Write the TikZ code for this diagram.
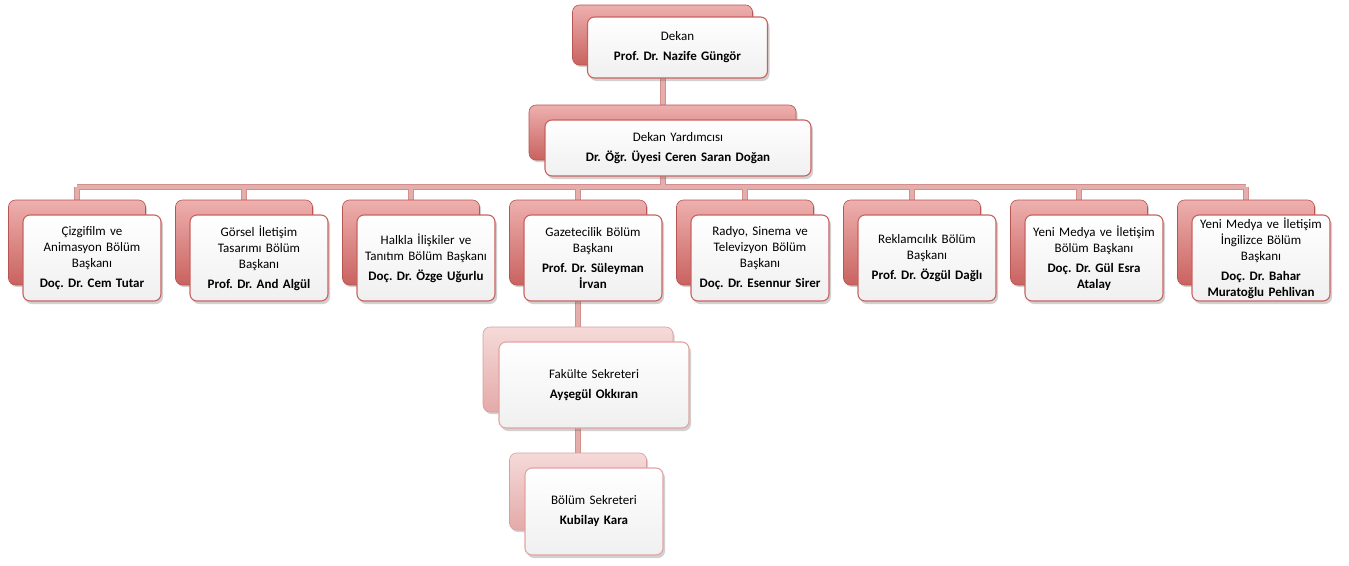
\documentclass[tikz,border=0pt]{standalone}
\usepackage{fontspec}
\setmainfont{Carlito}
\frenchspacing
\usetikzlibrary{shadows,backgrounds}
\definecolor{bkTop}{HTML}{EDB0AE}
\definecolor{bkBot}{HTML}{C9625F}
\definecolor{bkDraw}{HTML}{B85451}
\definecolor{lbTop}{HTML}{F5DAD9}
\definecolor{lbBot}{HTML}{E3AAA8}
\definecolor{lbDraw}{HTML}{D9A09E}
\definecolor{frDraw}{HTML}{C9625F}
\definecolor{lfDraw}{HTML}{E2A4A2}
\definecolor{conOut}{HTML}{D48F8D}
\definecolor{conIn}{HTML}{E4AEAC}
\begin{document}
\begin{tikzpicture}[x=1pt,y=-1pt,
  backbox/.style={rectangle, rounded corners=7pt, top color=bkTop, bottom color=bkBot, draw=bkDraw, line width=0.6pt, inner sep=0pt,
    drop shadow={shadow xshift=1.5pt, shadow yshift=-2pt, opacity=.3, fill=black!60}},
  lightback/.style={backbox, top color=lbTop, bottom color=lbBot, draw=lbDraw},
  frontbox/.style={rectangle, rounded corners=7pt, top color=white, bottom color=black!6, draw=frDraw, line width=1.1pt, inner sep=0pt, align=center,
    font=\fontsize{13}{16}\selectfont\frenchspacing,
    drop shadow={shadow xshift=2pt, shadow yshift=-3pt, opacity=.3, fill=black!60}},
  lightfront/.style={frontbox, draw=lfDraw},
  conn/.style={draw=conOut, line width=1pt, double=conIn, double distance=4pt}
]
\useasboundingbox (0,0) rectangle (1349,565);

% Dekan
\node[backbox, minimum width=180, minimum height=60] (dekB) at (662.5,35) {};
\node[frontbox, minimum width=180, minimum height=61, text width=174] (dekF) at (677.5,47.5)
  {Dekan\\[4pt]\textbf{Prof. Dr. Nazife Güngör}};

% Dekan Yardimcisi
\node[backbox, minimum width=267, minimum height=55] (yrdB) at (662.5,132.5) {};
\node[frontbox, minimum width=266, minimum height=56, text width=260] (yrdF) at (678,148)
  {Dekan Yardımcısı\\[4pt]\textbf{Dr. Öğr. Üyesi Ceren Saran Doğan}};

% Departments
\foreach \i/\txt in {
  0/{Çizgifilm ve\\Animasyon Bölüm\\Başkanı\\[4pt]\textbf{Doç. Dr. Cem Tutar}},
  1/{Görsel İletişim\\Tasarımı Bölüm\\Başkanı\\[4pt]\textbf{Prof. Dr. And Algül}},
  2/{Halkla İlişkiler ve\\Tanıtım Bölüm Başkanı\\[4pt]\textbf{Doç. Dr. Özge Uğurlu}},
  3/{Gazetecilik Bölüm\\Başkanı\\[4pt]\textbf{Prof. Dr. Süleyman}\\\textbf{İrvan}},
  4/{Radyo, Sinema ve\\Televizyon Bölüm\\Başkanı\\[4pt]\textbf{Doç. Dr. Esennur Sirer}},
  5/{Reklamcılık Bölüm\\Başkanı\\[4pt]\textbf{Prof. Dr. Özgül Dağlı}},
  6/{Yeni Medya ve İletişim\\Bölüm Başkanı\\[4pt]\textbf{Doç. Dr. Gül Esra}\\\textbf{Atalay}},
  7/{Yeni Medya ve İletişim\\İngilizce Bölüm\\Başkanı\\[4pt]\textbf{Doç. Dr. Bahar}\\\textbf{Muratoğlu Pehlivan}}}
{
  \node[backbox, minimum width=137, minimum height=85] (dB\i) at ({77+167*\i},242.5) {};
  \node[frontbox, minimum width=138, minimum height=86, text width=136] (dF\i) at ({92+167*\i},258) {\txt};
}

% Secretaries
\node[lightback, minimum width=190, minimum height=85] (fakB) at (578,369.5) {};
\node[lightfront, minimum width=190, minimum height=86, text width=180] (fakF) at (594,385)
  {Fakülte Sekreteri\\[4pt]\textbf{Ayşegül Okkıran}};
\node[lightback, minimum width=137, minimum height=77] (bolB) at (578,491.5) {};
\node[lightfront, minimum width=138, minimum height=87, text width=130] (bolF) at (594,511.5)
  {Bölüm Sekreteri\\[4pt]\textbf{Kubilay Kara}};

\coordinate (bus) at (662.5,187);

\begin{pgfonlayer}{background}
\draw[conn]
  (dekB.south) -- (yrdB.north)
  (yrdB.south) -- (bus)
  (dB0.north |- bus) -- (dB7.north |- bus)
  (dB0.north |- bus) -- (dB0.north)
  (dB1.north |- bus) -- (dB1.north)
  (dB2.north |- bus) -- (dB2.north)
  (dB3.north |- bus) -- (dB3.north)
  (dB4.north |- bus) -- (dB4.north)
  (dB5.north |- bus) -- (dB5.north)
  (dB6.north |- bus) -- (dB6.north)
  (dB7.north |- bus) -- (dB7.north)
  (dB3.south) -- (fakB.north)
  (fakB.south) -- (bolB.north);
\end{pgfonlayer}
\end{tikzpicture}
\end{document}
